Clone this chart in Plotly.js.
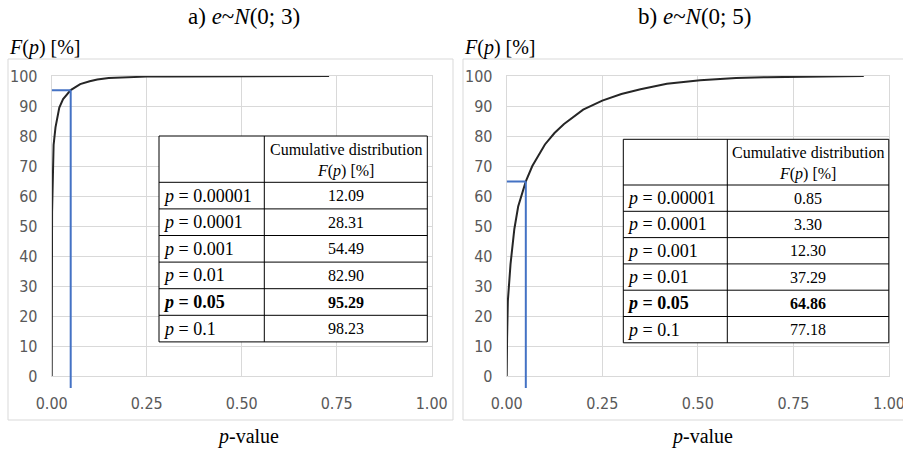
<!DOCTYPE html>
<html><head><meta charset="utf-8">
<script src="https://cdn.plot.ly/plotly-3.0.1.min.js"></script>
<style>html,body{margin:0;padding:0;background:#fff;}#chart{width:903px;height:449px;}</style>
</head><body><div id="chart"></div>
<script>
// ---------- data ----------
const pA = [0, 0.00001, 0.0001, 0.001, 0.005, 0.01, 0.02, 0.03, 0.05, 0.075, 0.1, 0.12, 0.15, 0.19, 0.25, 0.3, 0.4, 0.5, 0.6, 0.73];
const fA = [0, 12.09, 28.31, 54.49, 77, 82.90, 89.5, 92.3, 95.29, 97.3, 98.23, 98.8, 99.3, 99.6, 99.8, 99.85, 99.9, 99.95, 99.98, 100];
const pB = [0, 0.00001, 0.0001, 0.001, 0.003, 0.01, 0.02, 0.03, 0.05, 0.067, 0.1, 0.125, 0.15, 0.2, 0.25, 0.3, 0.35, 0.419, 0.506, 0.6, 0.681, 0.8, 0.934];
const fB = [0, 0.85, 3.30, 12.30, 25, 37.29, 49, 56.5, 64.86, 70, 77.18, 81, 84, 88.8, 91.8, 94, 95.6, 97.4, 98.6, 99.3, 99.6, 99.85, 100];
const tableP = ['0.00001', '0.0001', '0.001', '0.01', '0.05', '0.1'];
const tableA = [12.09, 28.31, 54.49, 82.90, 95.29, 98.23];
const tableB = [0.85, 3.30, 12.30, 37.29, 64.86, 77.18];
const highlightIdx = 4;
const xTicks = [0, 0.25, 0.5, 0.75, 1];
const xTickLabels = ['0.00', '0.25', '0.50', '0.75', '1.00'];
const yTicks = [0, 10, 20, 30, 40, 50, 60, 70, 80, 90, 100];
const panelTitles = ['a) <i>e</i>~<i>N</i>(0; 3)', 'b) <i>e</i>~<i>N</i>(0; 5)'];
const yLabel = '<i>F</i>(<i>p</i>) [%]';
const xLabel = '<i>p</i>-value';
const headerText = 'Cumulative distribution<br><i>F</i>(<i>p</i>) [%]';

// ---------- layout helpers ----------
const W = 903, H = 449;
const px = x => x / W;
const py = y => 1 - y / H;
const SERIF = '"Liberation Serif", "Times New Roman", "DejaVu Serif", serif';
const TICKFONT = {family: '"Liberation Sans Narrow", "Arial Narrow", "DejaVu Sans Condensed", "Liberation Sans", sans-serif', size: 16, color: '#595959'};
const GRID = '#d9d9d9';
const BLUE = '#4472C4';

const shapes = [];
const annotations = [];

// chart frames
shapes.push({type: 'rect', xref: 'paper', yref: 'paper', x0: px(8), x1: px(453), y0: py(420), y1: py(59), line: {color: GRID, width: 1}, layer: 'below'});
shapes.push({type: 'rect', xref: 'paper', yref: 'paper', x0: px(463), x1: px(915), y0: py(420), y1: py(59), line: {color: GRID, width: 1}, layer: 'below'});

function addTable(left, top, w0, w1, hh, rh, values) {
  const n = tableP.length;
  const bottom = top + hh + rh * n;
  const right = left + w0 + w1;
  const ln = {color: '#000', width: 1};
  shapes.push({type: 'rect', xref: 'paper', yref: 'paper', x0: px(left), x1: px(right), y0: py(bottom), y1: py(top), line: ln, fillcolor: '#fff', layer: 'above'});
  shapes.push({type: 'line', xref: 'paper', yref: 'paper', x0: px(left + w0), x1: px(left + w0), y0: py(bottom), y1: py(top), line: ln});
  for (let i = 0; i < n; i++) {
    const yl = top + hh + rh * i;
    shapes.push({type: 'line', xref: 'paper', yref: 'paper', x0: px(left), x1: px(right), y0: py(yl), y1: py(yl), line: ln});
  }
  annotations.push({xref: 'paper', yref: 'paper', x: px(left + w0 + w1 / 2), y: py(top + hh / 2 + 1), text: headerText, showarrow: false, xanchor: 'center', yanchor: 'middle', font: {family: SERIF, size: 16, color: '#000'}});
  for (let i = 0; i < n; i++) {
    const yc = top + hh + rh * (i + 0.5);
    const bold = i === highlightIdx;
    let lab = '<i>p</i> = ' + tableP[i];
    let val = values[i].toFixed(2);
    if (bold) { lab = '<b>' + lab + '</b>'; val = '<b>' + val + '</b>'; }
    annotations.push({xref: 'paper', yref: 'paper', x: px(left + 1.5), y: py(yc), text: lab, showarrow: false, xanchor: 'left', yanchor: 'middle', font: {family: SERIF, size: 18, color: '#000'}});
    annotations.push({xref: 'paper', yref: 'paper', x: px(left + w0 + w1 / 2), y: py(yc), text: val, showarrow: false, xanchor: 'center', yanchor: 'middle', font: {family: SERIF, size: 16, color: '#000'}});
  }
}
addTable(159, 136, 105.3, 163, 46.3, 26.6, tableA);
addTable(623.3, 139.3, 104, 161.5, 45.7, 26.3, tableB);

// blue marker lines at p = 0.05
function addMarker(xa, ya, pv, fv) {
  const ln = {color: BLUE, width: 2};
  shapes.push({type: 'line', xref: xa, yref: ya, x0: pv, x1: pv, y0: 0, y1: fv, line: ln, layer: 'above'});
  shapes.push({type: 'line', xref: xa, yref: ya + ' domain', x0: pv, x1: pv, y0: -0.04, y1: 0, line: ln, layer: 'above'});
  shapes.push({type: 'line', xref: xa, yref: ya, x0: 0, x1: pv, y0: fv, y1: fv, line: ln, layer: 'above'});
}
addMarker('x', 'y', parseFloat(tableP[highlightIdx]), tableA[highlightIdx]);
addMarker('x2', 'y2', parseFloat(tableP[highlightIdx]), tableB[highlightIdx]);

// titles and axis labels
annotations.push({xref: 'paper', yref: 'paper', x: px(244), y: py(16), text: panelTitles[0], showarrow: false, xanchor: 'center', yanchor: 'middle', font: {family: SERIF, size: 23, color: '#000'}});
annotations.push({xref: 'paper', yref: 'paper', x: px(694), y: py(16), text: panelTitles[1], showarrow: false, xanchor: 'center', yanchor: 'middle', font: {family: SERIF, size: 23, color: '#000'}});
annotations.push({xref: 'paper', yref: 'paper', x: px(7), y: py(48), text: yLabel, showarrow: false, xanchor: 'left', yanchor: 'middle', font: {family: SERIF, size: 20, color: '#000'}});
annotations.push({xref: 'paper', yref: 'paper', x: px(462), y: py(48), text: yLabel, showarrow: false, xanchor: 'left', yanchor: 'middle', font: {family: SERIF, size: 20, color: '#000'}});
annotations.push({xref: 'paper', yref: 'paper', x: px(248), y: py(436), text: xLabel, showarrow: false, xanchor: 'center', yanchor: 'middle', font: {family: SERIF, size: 20, color: '#000'}});
annotations.push({xref: 'paper', yref: 'paper', x: px(702), y: py(436), text: xLabel, showarrow: false, xanchor: 'center', yanchor: 'middle', font: {family: SERIF, size: 20, color: '#000'}});

function xAxis(d0, d1) {
  return {domain: [px(d0), px(d1)], range: [0, 1], tickvals: xTicks, ticktext: xTickLabels, showgrid: true, gridcolor: GRID, gridwidth: 1,
    zeroline: false, showline: true, mirror: true, linecolor: GRID, linewidth: 1, ticks: '', ticklabelstandoff: 13, ticklabeloverflow: 'allow',
    tickfont: TICKFONT, fixedrange: true};
}
function yAxis(anchor) {
  return {domain: [py(376), py(76)], range: [0, 100], tickvals: yTicks, showgrid: true, gridcolor: GRID, gridwidth: 1, anchor: anchor,
    zeroline: false, showline: true, mirror: true, linecolor: GRID, linewidth: 1, ticks: '', ticklabelstandoff: 10, tickfont: TICKFONT, fixedrange: true};
}

const curveLine = {color: '#262626', width: 2};
const data = [
  {x: pA, y: fA, type: 'scatter', mode: 'lines', line: curveLine, xaxis: 'x', yaxis: 'y', hoverinfo: 'skip'},
  {x: pB, y: fB, type: 'scatter', mode: 'lines', line: curveLine, xaxis: 'x2', yaxis: 'y2', hoverinfo: 'skip'}
];

const layout = {
  width: W, height: H, margin: {l: 0, r: 0, t: 0, b: 0}, showlegend: false,
  paper_bgcolor: '#fff', plot_bgcolor: '#fff',
  xaxis: Object.assign(xAxis(51.7, 431.7), {anchor: 'y'}),
  yaxis: yAxis('x'),
  xaxis2: Object.assign(xAxis(506.7, 889), {anchor: 'y2'}),
  yaxis2: yAxis('x2'),
  shapes: shapes, annotations: annotations
};
Plotly.newPlot('chart', data, layout, {staticPlot: true, displayModeBar: false});
</script></body></html>
